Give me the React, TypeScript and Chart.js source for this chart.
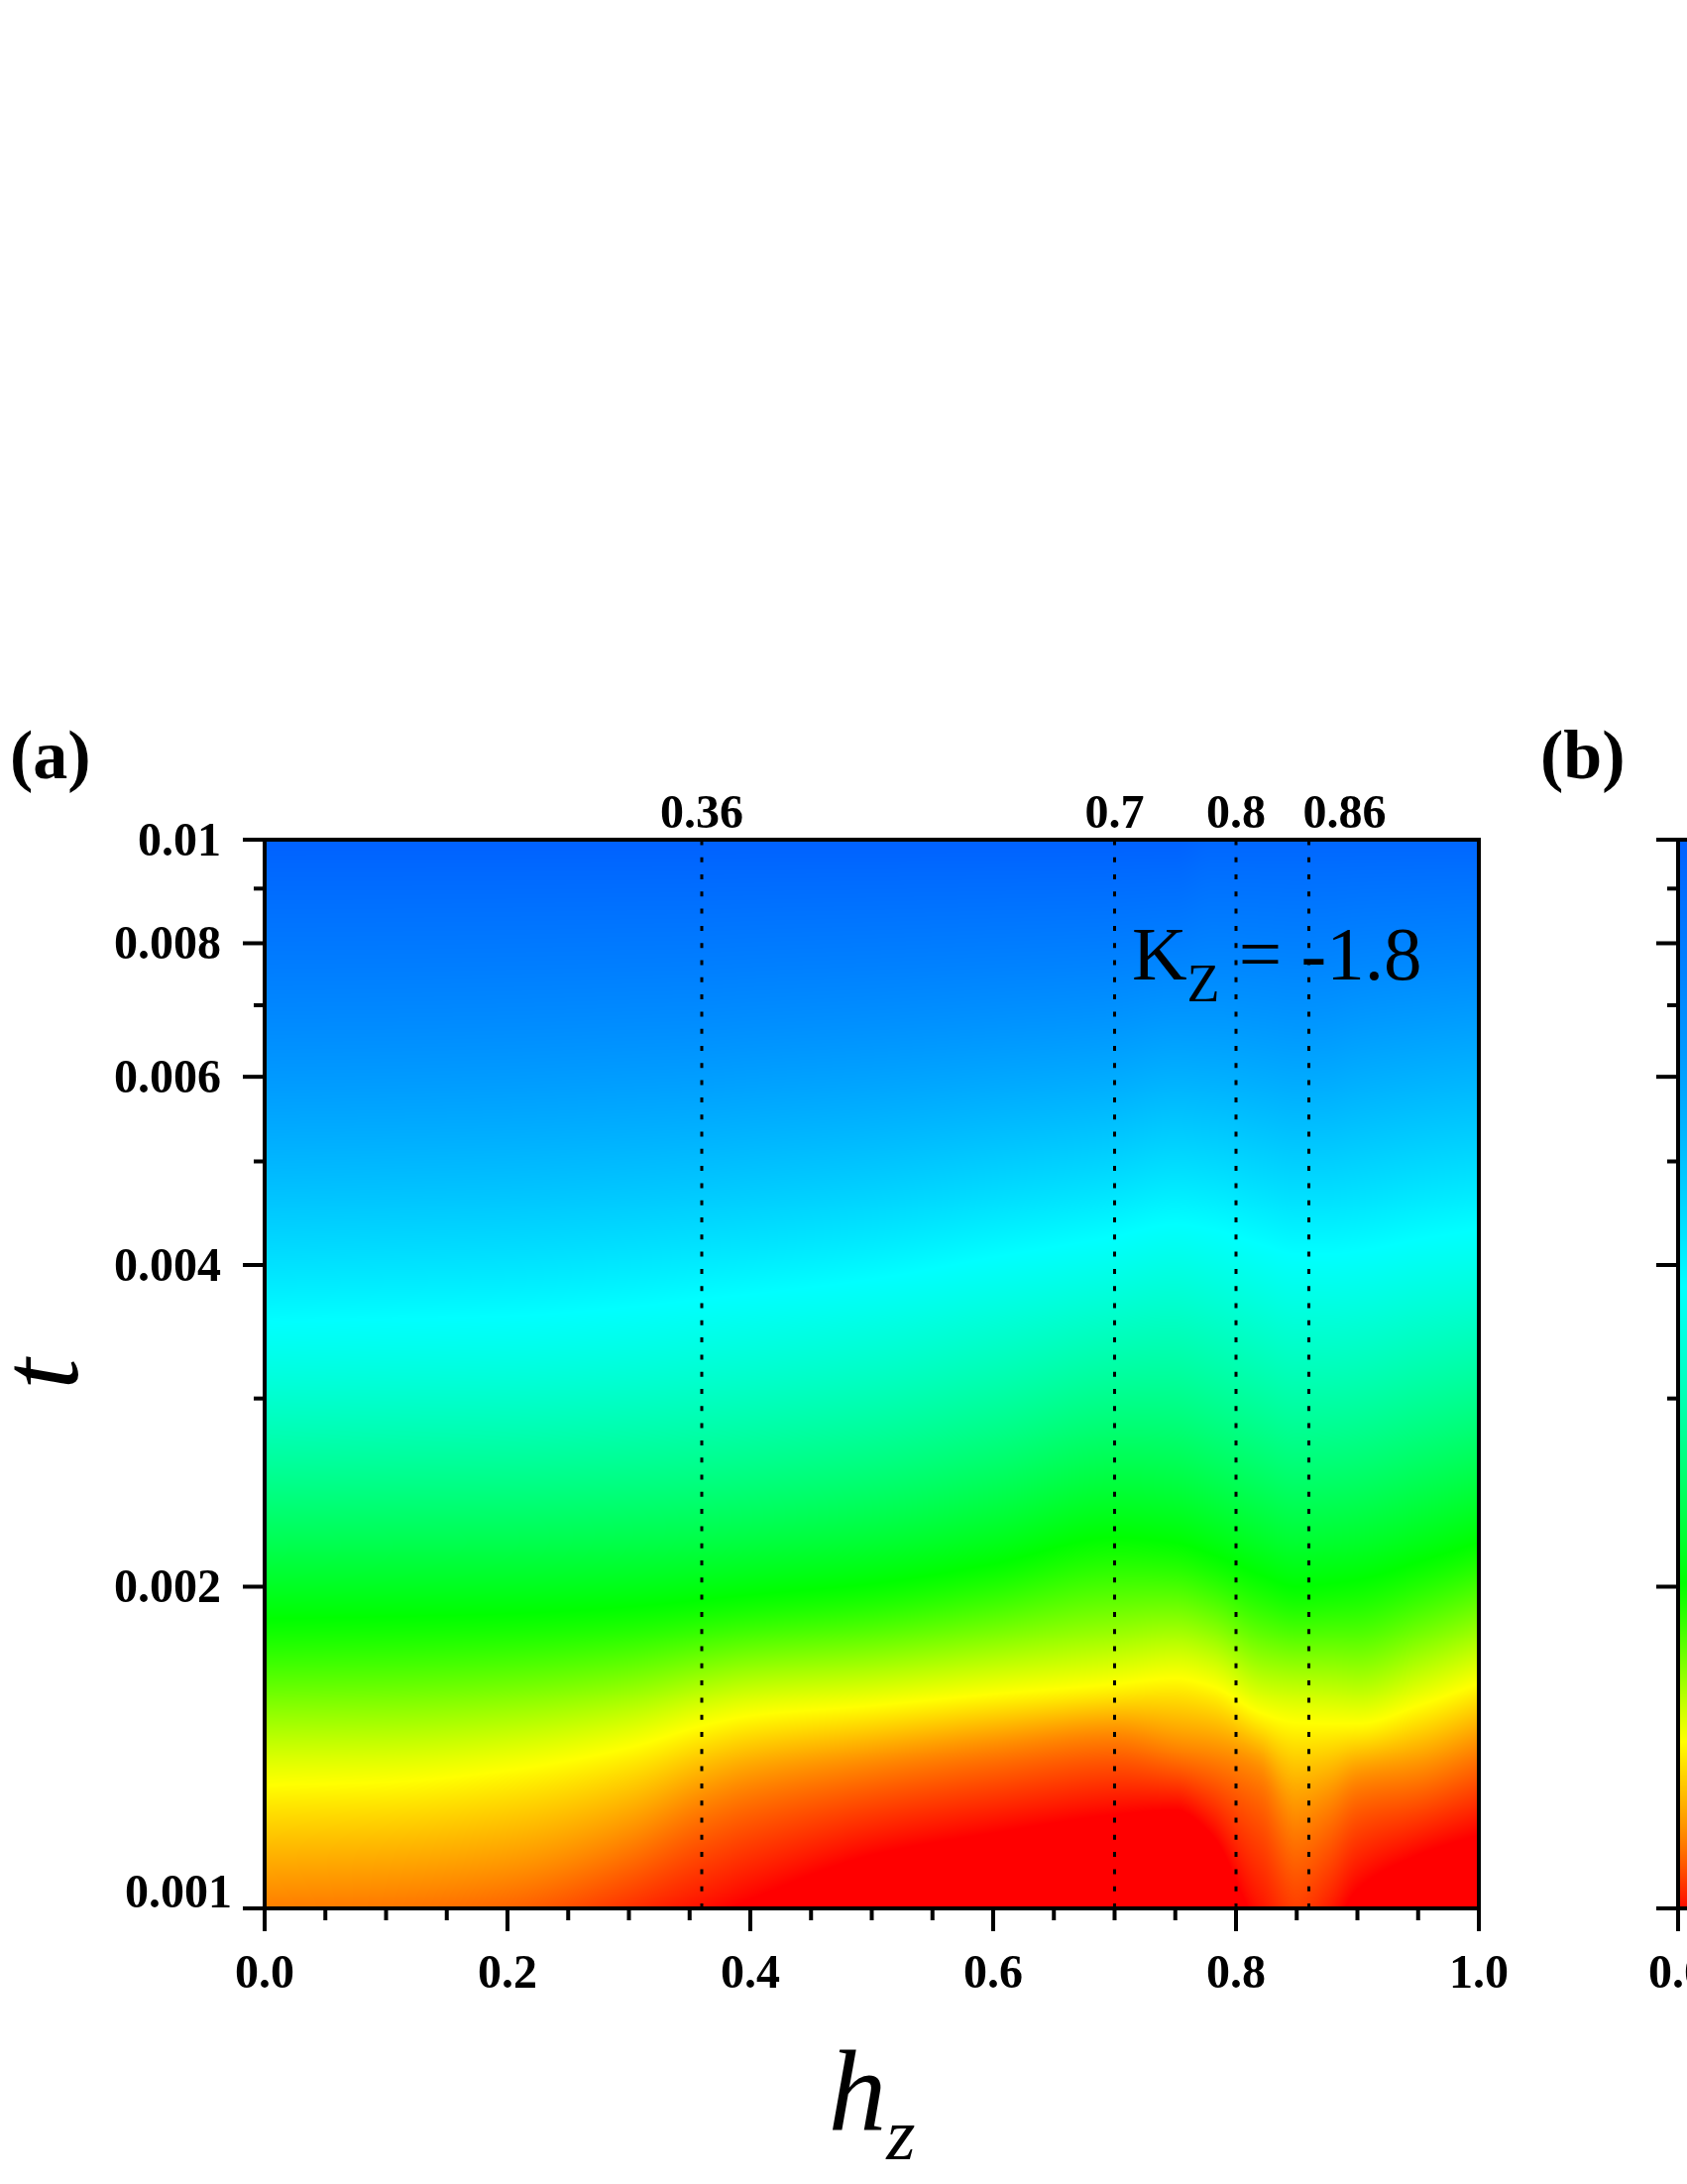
import React, { useEffect, useRef } from 'react';
import { Chart, registerables } from 'chart.js';

Chart.register(...registerables);

// ---------------- data ----------------
// Panel (a): h_z columns and, for each column, the temperature t at which the
// colour level is reached (red=0, orange=0.5, yellow=1, green=2, cyan=3, sky=3.4)
const hzGrid = [0, 0.1, 0.2, 0.3, 0.36, 0.4, 0.5, 0.6, 0.7, 0.75, 0.78, 0.82, 0.85, 0.875, 0.9, 0.95, 1.0];
const tRedA = [0.000739, 0.000772, 0.000832, 0.000916, 0.000971, 0.001019, 0.001122, 0.001176, 0.001223, 0.001236, 0.001172, 0.000946, 0.000832, 0.000926, 0.001042, 0.001122, 0.001172];
const tOrangeA = [0.001004, 0.001019, 0.001053, 0.001147, 0.001244, 0.00129, 0.001352, 0.001402, 0.001442, 0.001405, 0.001384, 0.001326, 0.001189, 0.001236, 0.001304, 0.001332, 0.001399];
const tYellowA = [0.001304, 0.001312, 0.001346, 0.001414, 0.001482, 0.001514, 0.001547, 0.001587, 0.001622, 0.001642, 0.001615, 0.001524, 0.001492, 0.001489, 0.001489, 0.001547, 0.001625];
const tGreenA = [0.001866, 0.001875, 0.001887, 0.001915, 0.001944, 0.001965, 0.002012, 0.0021, 0.002224, 0.0022, 0.002145, 0.002051, 0.001999, 0.002012, 0.002029, 0.002109, 0.002201];
const tCyanA = [0.003538, 0.00356, 0.003583, 0.003653, 0.003716, 0.003756, 0.003878, 0.004066, 0.004252, 0.004363, 0.004316, 0.00418, 0.004092, 0.004092, 0.004118, 0.004225, 0.004316];
const tSkyA = [0.006012, 0.006037, 0.006076, 0.006142, 0.006181, 0.006234, 0.006342, 0.006479, 0.006619, 0.006762, 0.006762, 0.00669, 0.006619, 0.006648, 0.006762, 0.006879, 0.006982];
const vTopA = [3.62, 3.62, 3.62, 3.62, 3.62, 3.62, 3.62, 3.62, 3.62, 3.62, 3.6, 3.6, 3.6, 3.6, 3.6, 3.6, 3.6];

// Panel (b): only its left edge is visible
const hzGridB = [0, 1];
const tRedB = [0.000987, 0.000987];
const tOrangeB = [0.001157, 0.001157];
const tYellowB = [0.001432, 0.001432];
const tGreenB = [0.002016, 0.002016];
const tCyanB = [0.003821, 0.003821];
const tSkyB = [0.006342, 0.006342];
const vTopB = [3.62, 3.62];

const levelValues = [0, 0.5, 1, 2, 3, 3.4];

const markerHz = [0.36, 0.7, 0.8, 0.86];
const markerLabels = ['0.36', '0.7', '0.8', '0.86'];

const xMin = 0;
const xMax = 1;
const yMin = 0.001;
const yMax = 0.01;
const xMajorTicks = [0, 0.2, 0.4, 0.6, 0.8, 1.0];
const xTickLabels = ['0.0', '0.2', '0.4', '0.6', '0.8', '1.0'];
const xMinorTicks = [0.05, 0.1, 0.15, 0.25, 0.3, 0.35, 0.45, 0.5, 0.55, 0.65, 0.7, 0.75, 0.85, 0.9, 0.95];
const yMajorTicks = [0.001, 0.002, 0.004, 0.006, 0.008, 0.01];
const yTickLabels = ['0.001', '0.002', '0.004', '0.006', '0.008', '0.01'];
const yMinorTicks = [0.003, 0.005, 0.007, 0.009];

const kMain = 'K';
const kSub = 'Z';
const kRest = ' = -1.8';
const xTitleMain = 'h';
const xTitleSub = 'z';
const yTitle = 't';

// colour map stops (value -> rgb)
const cmapStops: [number, number[]][] = [
  [0, [255, 0, 0]],
  [1, [255, 255, 0]],
  [2, [0, 255, 0]],
  [3, [0, 255, 255]],
  [4, [0, 0, 255]],
];

const SERIF = '"Liberation Serif", "Times New Roman", Times, serif';

// ---------------- helpers ----------------
function makePchip(xs: number[], ys: number[]) {
  const n = xs.length;
  const h: number[] = [];
  const d: number[] = [];
  for (let i = 0; i < n - 1; i++) {
    h.push(xs[i + 1] - xs[i]);
    d.push((ys[i + 1] - ys[i]) / h[i]);
  }
  const m = new Array(n).fill(0);
  if (n === 2) {
    m[0] = d[0];
    m[1] = d[0];
  } else {
    m[0] = d[0];
    m[n - 1] = d[n - 2];
    for (let i = 1; i < n - 1; i++) {
      if (d[i - 1] * d[i] <= 0) m[i] = 0;
      else {
        const w1 = 2 * h[i] + h[i - 1];
        const w2 = h[i] + 2 * h[i - 1];
        m[i] = (w1 + w2) / (w1 / d[i - 1] + w2 / d[i]);
      }
    }
  }
  return (x: number) => {
    if (x <= xs[0]) return ys[0] + m[0] * (x - xs[0]);
    if (x >= xs[n - 1]) return ys[n - 1] + m[n - 1] * (x - xs[n - 1]);
    let i = 0;
    while (i < n - 2 && x > xs[i + 1]) i++;
    const t = (x - xs[i]) / h[i];
    const t2 = t * t;
    const t3 = t2 * t;
    return (
      (2 * t3 - 3 * t2 + 1) * ys[i] +
      (t3 - 2 * t2 + t) * h[i] * m[i] +
      (-2 * t3 + 3 * t2) * ys[i + 1] +
      (t3 - t2) * h[i] * m[i + 1]
    );
  };
}

function colorOf(v: number): number[] {
  if (v <= cmapStops[0][0]) return cmapStops[0][1];
  for (let k = 0; k < cmapStops.length - 1; k++) {
    const [a, ca] = cmapStops[k];
    const [b, cb] = cmapStops[k + 1];
    if (v <= b) {
      const f = (v - a) / (b - a);
      return [ca[0] + (cb[0] - ca[0]) * f, ca[1] + (cb[1] - ca[1]) * f, ca[2] + (cb[2] - ca[2]) * f];
    }
  }
  return cmapStops[cmapStops.length - 1][1];
}

type PanelCfg = {
  hz: number[];
  levels: number[][]; // t arrays per level
  vTop: number[];
  markers: number[];
  markerLabels: string[];
  markerLabelDx: number[];
  panelLabel: string;
  labelDx: number;
  showYLabels: boolean;
  showTitles: boolean;
  showK: boolean;
};

const panelA: PanelCfg = {
  hz: hzGrid,
  levels: [tRedA, tOrangeA, tYellowA, tGreenA, tCyanA, tSkyA],
  vTop: vTopA,
  markers: markerHz,
  markerLabels: markerLabels,
  markerLabelDx: [0, 0, 0, 36],
  panelLabel: '(a)',
  labelDx: -257,
  showYLabels: true,
  showTitles: true,
  showK: true,
};

const panelB: PanelCfg = {
  hz: hzGridB,
  levels: [tRedB, tOrangeB, tYellowB, tGreenB, tCyanB, tSkyB],
  vTop: vTopB,
  markers: [],
  markerLabels: [],
  markerLabelDx: [],
  panelLabel: '(b)',
  labelDx: -139,
  showYLabels: false,
  showTitles: false,
  showK: false,
};

function HeatPanel({ cfg, left }: { cfg: PanelCfg; left: number }) {
  const ref = useRef<HTMLCanvasElement | null>(null);

  useEffect(() => {
    const canvas = ref.current;
    if (!canvas) return;

    const heatPlugin = {
      id: 'heatmap',
      beforeDatasetsDraw(chart: any) {
        const ctx = chart.ctx as CanvasRenderingContext2D;
        const area = chart.chartArea;
        const xs = chart.scales.x;
        const ys = chart.scales.y;
        const w = Math.round(area.right - area.left);
        const h = Math.round(area.bottom - area.top);
        const img = ctx.createImageData(w, h);
        const lt = new Float64Array(h);
        for (let j = 0; j < h; j++) lt[j] = Math.log10(ys.getValueForPixel(area.top + j + 0.5));
        const series = cfg.levels.map((arr) => makePchip(cfg.hz, arr.map((v) => Math.log10(v))));
        const topP = makePchip(cfg.hz, cfg.vTop);
        const logTop = Math.log10(yMax);
        for (let i = 0; i < w; i++) {
          const hz = xs.getValueForPixel(area.left + i + 0.5);
          const ax = series.map((p) => p(hz));
          ax.push(logTop);
          for (let k = 1; k < ax.length; k++) if (ax[k] <= ax[k - 1] + 1e-4) ax[k] = ax[k - 1] + 1e-4;
          const vals = [...levelValues, topP(hz)];
          const f = makePchip(ax, vals);
          for (let j = 0; j < h; j++) {
            const c = colorOf(f(lt[j]));
            const idx = (j * w + i) * 4;
            img.data[idx] = c[0];
            img.data[idx + 1] = c[1];
            img.data[idx + 2] = c[2];
            img.data[idx + 3] = 255;
          }
        }
        ctx.putImageData(img, Math.round(area.left), Math.round(area.top));
      },
    };

    const axesPlugin = {
      id: 'axesDecor',
      afterDraw(chart: any) {
        const ctx = chart.ctx as CanvasRenderingContext2D;
        const a = chart.chartArea;
        const xs = chart.scales.x;
        const ys = chart.scales.y;
        ctx.save();
        ctx.strokeStyle = '#000';
        ctx.fillStyle = '#000';
        ctx.lineCap = 'butt';
        ctx.lineWidth = 4;
        // y ticks
        for (const v of yMajorTicks) {
          const y = ys.getPixelForValue(v);
          ctx.beginPath();
          ctx.moveTo(a.left - 22, y);
          ctx.lineTo(a.left, y);
          ctx.stroke();
        }
        for (const v of yMinorTicks) {
          const y = ys.getPixelForValue(v);
          ctx.beginPath();
          ctx.moveTo(a.left - 11, y);
          ctx.lineTo(a.left, y);
          ctx.stroke();
        }
        // x ticks
        for (const v of xMajorTicks) {
          const x = xs.getPixelForValue(v);
          ctx.beginPath();
          ctx.moveTo(x, a.bottom);
          ctx.lineTo(x, a.bottom + 23);
          ctx.stroke();
        }
        for (const v of xMinorTicks) {
          const x = xs.getPixelForValue(v);
          ctx.beginPath();
          ctx.moveTo(x, a.bottom);
          ctx.lineTo(x, a.bottom + 12);
          ctx.stroke();
        }
        // frame
        ctx.lineWidth = 4;
        ctx.strokeRect(a.left, a.top, a.right - a.left, a.bottom - a.top);

        // tick labels
        ctx.font = `bold 48px ${SERIF}`;
        ctx.textBaseline = 'alphabetic';
        if (cfg.showYLabels) {
          ctx.textAlign = 'right';
          yMajorTicks.forEach((v, k) => {
            const y = ys.getPixelForValue(v);
            if (v === yMin) ctx.fillText(yTickLabels[k], a.left - 33, y - 1);
            else ctx.fillText(yTickLabels[k], a.left - 44, y + 16);
          });
        }
        ctx.textAlign = 'center';
        xMajorTicks.forEach((v, k) => {
          ctx.fillText(xTickLabels[k], xs.getPixelForValue(v), a.bottom + 80);
        });
        // marker labels
        cfg.markers.forEach((v, k) => {
          ctx.fillText(cfg.markerLabels[k], xs.getPixelForValue(v) + (cfg.markerLabelDx[k] || 0), a.top - 12);
        });

        // panel label
        ctx.textAlign = 'left';
        ctx.font = `bold 70px ${SERIF}`;
        ctx.fillText(cfg.panelLabel, a.left + cfg.labelDx, a.top - 62);

        // K_Z annotation
        if (cfg.showK) {
          let x = a.left + 875;
          const base = a.top + 141;
          ctx.font = `77px ${SERIF}`;
          ctx.fillText(kMain, x, base);
          x += ctx.measureText(kMain).width;
          ctx.font = `54px ${SERIF}`;
          ctx.fillText(kSub, x, base + 22);
          x += ctx.measureText(kSub).width;
          ctx.font = `77px ${SERIF}`;
          ctx.fillText(kRest, x, base);
        }

        if (cfg.showTitles) {
          // x title h_z
          ctx.font = `italic 117px ${SERIF}`;
          const wh = ctx.measureText(xTitleMain).width;
          ctx.font = `italic 75px ${SERIF}`;
          const wz = ctx.measureText(xTitleSub).width;
          const cx = (a.left + a.right) / 2;
          const x0 = cx - (wh + wz) / 2;
          ctx.font = `italic 117px ${SERIF}`;
          ctx.fillText(xTitleMain, x0, a.bottom + 223);
          ctx.font = `italic 75px ${SERIF}`;
          ctx.fillText(xTitleSub, x0 + wh, a.bottom + 253);
          // y title t
          ctx.save();
          ctx.translate(a.left - 189, (a.top + a.bottom) / 2);
          ctx.rotate(-Math.PI / 2);
          ctx.textAlign = 'center';
          ctx.font = `italic 112px ${SERIF}`;
          ctx.fillText(yTitle, 0, 0);
          ctx.restore();
        }
        ctx.restore();
      },
    };

    const datasets = cfg.markers.map((v) => ({
      type: 'line' as const,
      data: [
        { x: v, y: yMin },
        { x: v, y: yMax },
      ],
      borderColor: '#000',
      borderWidth: 3,
      borderDash: [5, 12.3],
      borderCapStyle: 'butt' as const,
      pointRadius: 0,
      showLine: true,
      fill: false,
    }));

    const chart = new Chart(canvas, {
      type: 'scatter',
      data: { datasets: datasets as any },
      options: {
        responsive: false,
        maintainAspectRatio: false,
        devicePixelRatio: 1,
        animation: false,
        events: [],
        layout: { padding: { left: 267, right: 210, top: 847, bottom: 278 } },
        plugins: { legend: { display: false }, tooltip: { enabled: false } },
        scales: {
          x: { type: 'linear', min: xMin, max: xMax, display: false },
          y: { type: 'logarithmic', min: yMin, max: yMax, display: false },
        },
      },
      plugins: [heatPlugin, axesPlugin],
    });
    return () => chart.destroy();
  }, [cfg]);

  return (
    <canvas
      ref={ref}
      width={1702}
      height={2203}
      style={{ position: 'absolute', left, top: 0, width: 1702, height: 2203, display: 'block' }}
    />
  );
}

export default function App() {
  useEffect(() => {
    document.body.style.margin = '0';
  }, []);
  return (
    <div
      style={{
        position: 'absolute',
        left: 0,
        top: 0,
        width: 1702,
        height: 2203,
        overflow: 'hidden',
        background: '#fff',
      }}
    >
      <HeatPanel cfg={panelA} left={0} />
      <HeatPanel cfg={panelB} left={1426} />
    </div>
  );
}
